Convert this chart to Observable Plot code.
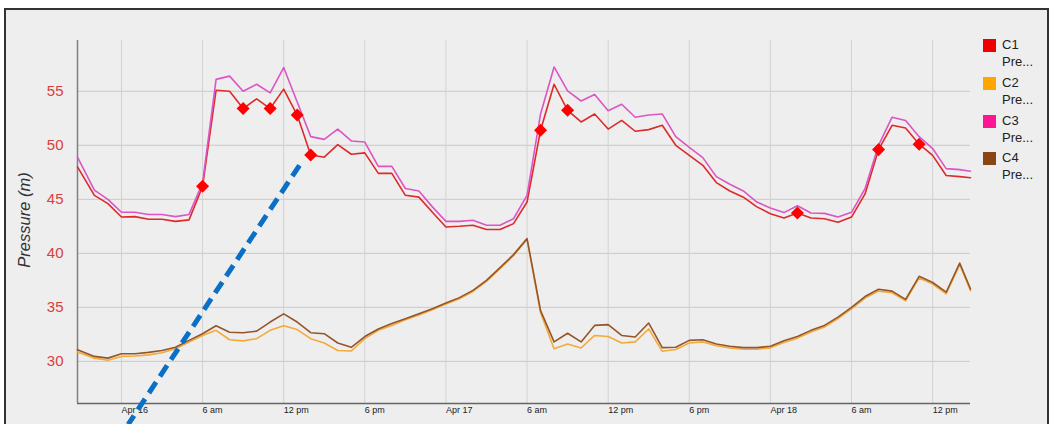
<!DOCTYPE html>
<html>
<head>
<meta charset="utf-8">
<script src="https://cdn.jsdelivr.net/npm/d3@7"></script>
<script src="https://cdn.jsdelivr.net/npm/@observablehq/plot@0.6"></script>
<style>
  html, body { margin: 0; padding: 0; background: #ffffff; }
  body { width: 1054px; height: 424px; position: relative; overflow: hidden; font-family: "Liberation Sans", Arial, sans-serif; }
  #frame { position: absolute; left: 4px; top: 8px; width: 1041px; height: 440px; border: 2px solid #333; background: #eeeeee; }
  #chart { position: absolute; left: 0; top: 0; }
  .lg { position: absolute; left: 983px; }
  .lg .sw { position: absolute; left: 0; top: 0; width: 13px; height: 13px; }
  .lg .tx { position: absolute; left: 19px; top: -2px; font-size: 13px; line-height: 16.5px; color: #222; white-space: nowrap; }
</style>
</head>
<body>
<div id="frame"></div>
<div id="chart"></div>
<div id="legend"></div>
<script>
// ---- data (hours relative to Apr 16 00:00) ----
const hours = [-3.25, -2, -1, 0, 1, 2, 3, 4, 5, 6, 7, 8, 9, 10, 11, 12, 13, 14, 15, 16, 17, 18, 19, 20,
  21, 22, 23, 24, 25, 26, 27, 28, 29, 30, 31, 32, 33, 34, 35, 36, 37, 38, 39, 40, 41, 42, 43, 44,
  45, 46, 47, 48, 49, 50, 51, 52, 53, 54, 55, 56, 57, 58, 59, 60, 61, 62, 62.8];

const c1 = [48.0, 45.37, 44.6, 43.36, 43.4, 43.15, 43.15, 42.96, 43.1, 46.2, 55.1, 55.0, 53.4, 54.3, 53.4, 55.2, 52.8, 49.1, 48.9, 50.06, 49.17, 49.3, 47.4, 47.4,
  45.37, 45.2, 43.8, 42.44, 42.5, 42.6, 42.2, 42.2, 42.75, 44.75, 51.4, 55.65, 53.24, 52.16, 52.9, 51.5, 52.3, 51.3, 51.45, 51.85, 50.0, 49.07, 48.15, 46.55,
  45.77, 45.2, 44.3, 43.67, 43.27, 43.74, 43.27, 43.2, 42.87, 43.36, 45.5, 49.6, 51.85, 51.6, 50.1, 49.07, 47.2, 47.1, 47.0];

const c2 = [30.86, 30.3, 30.1, 30.46, 30.5, 30.6, 30.8, 31.17, 31.8, 32.4, 32.87, 32.0, 31.9, 32.1, 32.87, 33.3, 32.94, 32.1, 31.7, 31.0, 30.96, 32.1, 32.87, 33.33,
  33.85, 34.3, 34.77, 35.3, 35.8, 36.47, 37.4, 38.57, 39.78, 41.3, 34.5, 31.17, 31.6, 31.24, 32.4, 32.3, 31.7, 31.8, 33.0, 30.93, 31.1, 31.7, 31.8, 31.45,
  31.25, 31.12, 31.12, 31.25, 31.75, 32.15, 32.72, 33.18, 33.95, 34.85, 35.85, 36.5, 36.35, 35.6, 37.72, 37.15, 36.25, 38.95, 36.55];

const c3 = [48.9, 45.85, 45.0, 43.8, 43.8, 43.6, 43.6, 43.4, 43.6, 46.5, 56.1, 56.4, 55.0, 55.65, 54.85, 57.2, 54.0, 50.8, 50.55, 51.5, 50.4, 50.3, 48.05, 48.05,
  46.0, 45.77, 44.3, 42.96, 42.96, 43.06, 42.6, 42.6, 43.2, 45.37, 52.9, 57.25, 55.03, 54.1, 54.7, 53.2, 53.8, 52.6, 52.8, 52.9, 50.8, 49.8, 48.86, 47.1,
  46.4, 45.77, 44.75, 44.2, 43.77, 44.4, 43.74, 43.7, 43.36, 43.8, 45.98, 50.0, 52.6, 52.3, 50.8, 49.7, 47.84, 47.75, 47.6];

const c4 = [31.08, 30.46, 30.3, 30.7, 30.7, 30.83, 31.0, 31.3, 31.94, 32.56, 33.3, 32.7, 32.65, 32.8, 33.64, 34.4, 33.64, 32.65, 32.56, 31.7, 31.3, 32.3, 33.0, 33.5,
  33.95, 34.4, 34.87, 35.4, 35.9, 36.57, 37.5, 38.67, 39.88, 41.36, 34.7, 31.8, 32.6, 31.8, 33.33, 33.4, 32.4, 32.25, 33.55, 31.27, 31.3, 31.94, 32.0, 31.6,
  31.4, 31.27, 31.27, 31.4, 31.9, 32.3, 32.87, 33.33, 34.1, 35.0, 36.0, 36.67, 36.5, 35.74, 37.87, 37.3, 36.4, 39.1, 36.7];

const markerHours = [6, 9, 11, 13, 14, 31, 33, 50, 56, 59];

const seriesNames = ["C1", "C2", "C3", "C4"];
const seriesSub = ["Pre...", "Pre...", "Pre...", "Pre..."];
const legendColors = ["#ee0000", "#ffa500", "#ff1493", "#8b4513"];
const lineColors = ["#dd2a2a", "#f2aa38", "#dc55c4", "#94552a"];

const xTickHours = [0, 6, 12, 18, 24, 30, 36, 42, 48, 54, 60];
const xTickLabels = ["Apr 16", "6 am", "12 pm", "6 pm", "Apr 17", "6 am", "12 pm", "6 pm", "Apr 18", "6 am", "12 pm"];
const yTicks = [30, 35, 40, 45, 50, 55];
const yTitle = "Pressure (m)";

// annotation arrow (dashed blue), endpoints in data space [hour, value]
const arrowHours = [13.17, 0.5];
const arrowValues = [48.15, 24.17];

// ---- build ----
const base = Date.UTC(2014, 3, 16, 0, 0);
const toDate = h => new Date(base + h * 3600e3);
const series = [c1, c2, c3, c4];
const rows = [];
series.forEach((vals, s) => vals.forEach((v, i) => rows.push({name: seriesNames[s], date: toDate(hours[i]), value: v})));
const markers = markerHours.map(h => ({date: toDate(h), value: c1[hours.indexOf(h)]}));
const xTicks = xTickHours.map((h, i) => ({date: toDate(h), label: xTickLabels[i]}));
const arrow = arrowHours.map((h, i) => ({date: toDate(h), value: arrowValues[i]}));

const x0 = toDate(-3.25), x1 = toDate(62.8);
const y0 = 26.1, y1 = 59.7;

const plot = Plot.plot({
  width: 1054,
  height: 424,
  marginLeft: 77,
  marginRight: 84,
  marginTop: 40,
  marginBottom: 21,
  style: {background: "transparent", fontFamily: "'Liberation Sans', Arial, sans-serif", overflow: "visible"},
  x: {type: "utc", domain: [x0, x1], axis: null},
  y: {domain: [y0, y1], axis: null},
  marks: [
    Plot.ruleY(yTicks, {y: d => d, stroke: "#c9c9c9", strokeWidth: 1}),
    Plot.ruleX(xTicks, {x: "date", stroke: "#d2d2d2", strokeWidth: 1}),
    Plot.ruleX([x0], {stroke: "#808080", strokeWidth: 1.5}),
    Plot.ruleY([y0], {stroke: "#666666", strokeWidth: 1.5}),
    Plot.text(yTicks, {y: d => d, text: d => String(d), frameAnchor: "left", dx: -14, textAnchor: "end", fill: "#d8403a", fontSize: 15}),
    Plot.text(xTicks, {x: "date", text: "label", frameAnchor: "bottom", dy: 9, textAnchor: "start", fill: "#222", fontSize: 9}),
    Plot.text([yTitle], {text: d => d, frameAnchor: "left", textAnchor: "middle", dx: -53, dy: -2, rotate: -90, fontStyle: "italic", fontSize: 16.5, fill: "#333"}),
    ...seriesNames.map((n, s) => Plot.line(rows.filter(r => r.name === n), {x: "date", y: "value", stroke: lineColors[s], strokeWidth: 1.6})),
    Plot.dot(markers, {x: "date", y: "value", symbol: "square", r: 5.2, rotate: 45, fill: "#ff0000", stroke: "none"}),
    Plot.line(arrow, {x: "date", y: "value", stroke: "#0b6fc6", strokeWidth: 5, strokeDasharray: "13,7", strokeLinecap: "butt"})
  ]
});
document.getElementById("chart").appendChild(plot);

// legend
const lg = document.getElementById("legend");
const tops = [39, 77, 115, 152];
seriesNames.forEach((n, i) => {
  const d = document.createElement("div");
  d.className = "lg";
  d.style.top = tops[i] + "px";
  d.innerHTML = `<div class="sw" style="background:${legendColors[i]}"></div><div class="tx">${n}<br>${seriesSub[i]}</div>`;
  lg.appendChild(d);
});
</script>
</body>
</html>
